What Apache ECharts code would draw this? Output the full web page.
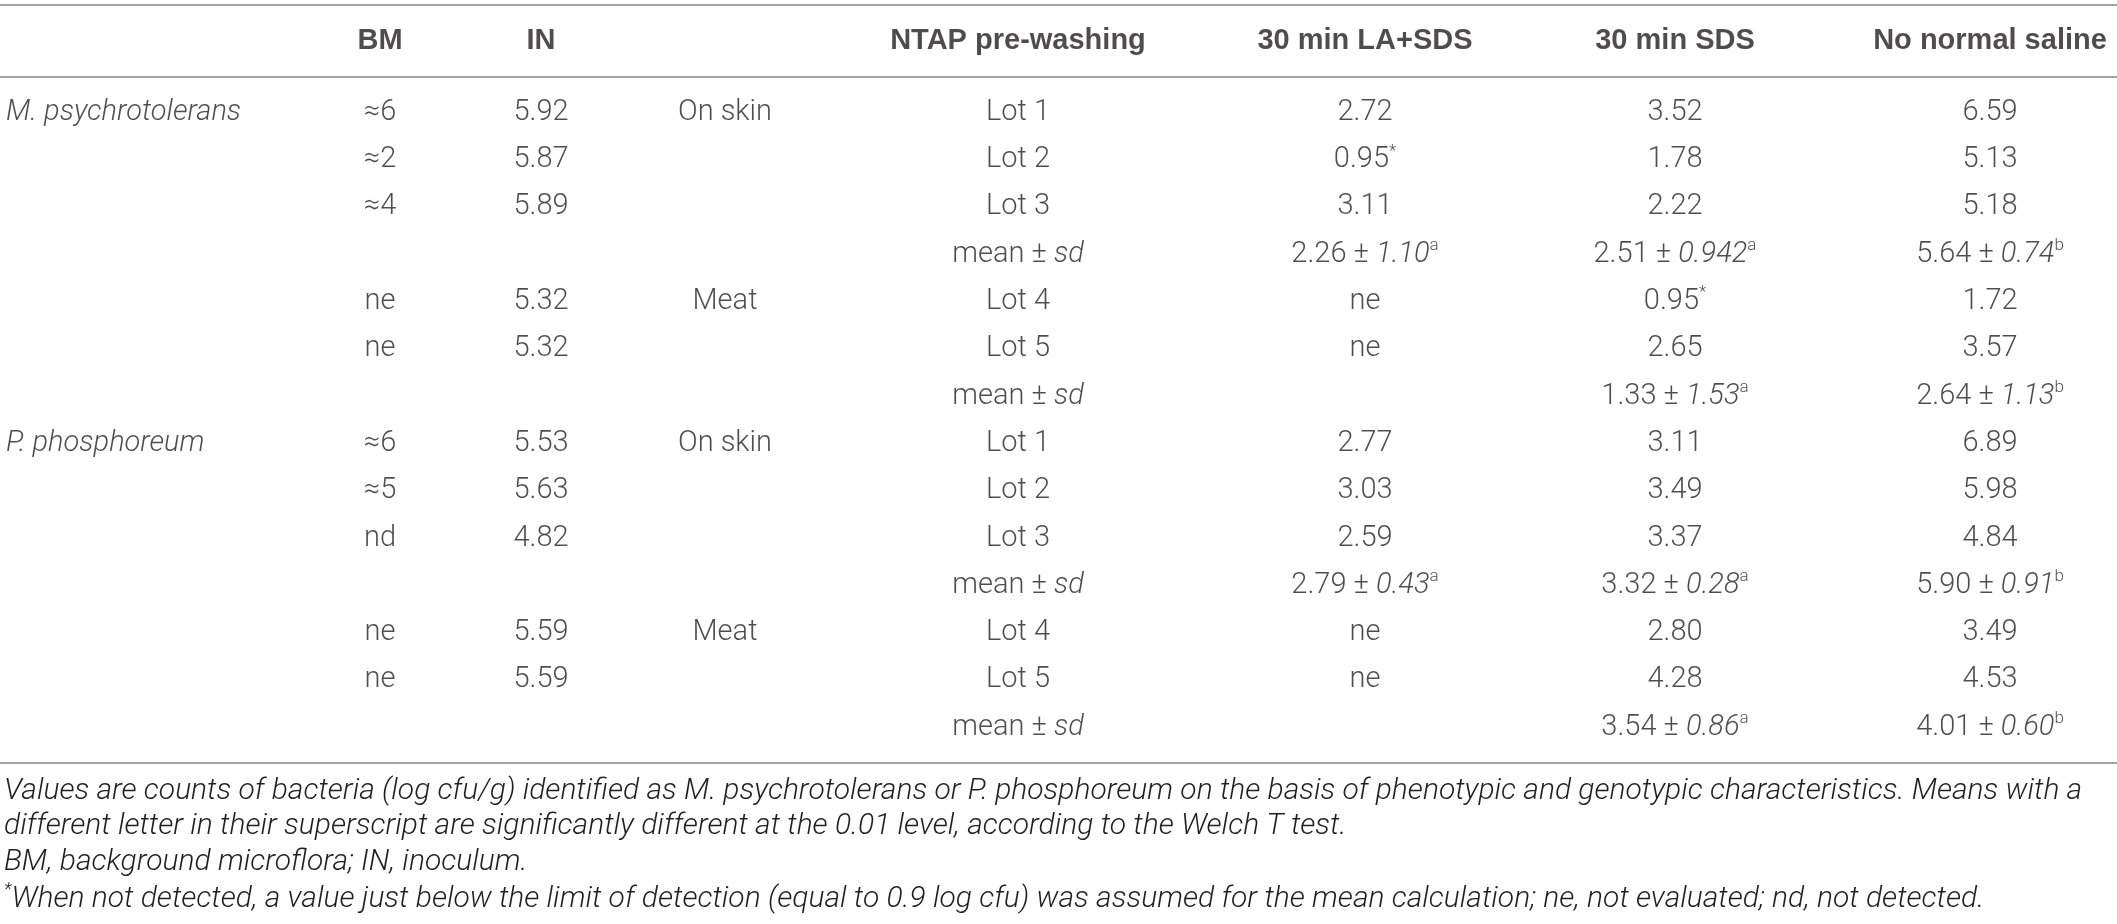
<!DOCTYPE html>
<html>
<head>
<meta charset="utf-8">
<script src="https://cdn.jsdelivr.net/npm/echarts@6/dist/echarts.min.js"></script>
<style>
  html, body { margin: 0; padding: 0; background: #fff; }
  #main { width: 2117px; height: 924px; }
</style>
</head>
<body>
<div id="main"></div>
<script>
// table content
const headers = ["", "BM", "IN", "", "NTAP pre-washing", "30 min LA+SDS", "30 min SDS", "No normal saline"]
const species = ["M. psychrotolerans", "", "", "", "", "", "", "P. phosphoreum", "", "", "", "", "", ""]
const bm = ["≈6", "≈2", "≈4", "", "ne", "ne", "", "≈6", "≈5", "nd", "", "ne", "ne", ""]
const inoculum = ["5.92", "5.87", "5.89", "", "5.32", "5.32", "", "5.53", "5.63", "4.82", "", "5.59", "5.59", ""]
const matrix = ["On skin", "", "", "", "Meat", "", "", "On skin", "", "", "", "Meat", "", ""]
const lots = ["Lot 1", "Lot 2", "Lot 3", "mean", "Lot 4", "Lot 5", "mean", "Lot 1", "Lot 2", "Lot 3", "mean", "Lot 4", "Lot 5", "mean"]
// mean rows are "mean|sd|letter"
const laSds = ["2.72", "0.95*", "3.11", "2.26|1.10|a", "ne", "ne", "", "2.77", "3.03", "2.59", "2.79|0.43|a", "ne", "ne", ""]
const sds = ["3.52", "1.78", "2.22", "2.51|0.942|a", "0.95*", "2.65", "1.33|1.53|a", "3.11", "3.49", "3.37", "3.32|0.28|a", "2.80", "4.28", "3.54|0.86|a"]
const noSaline = ["6.59", "5.13", "5.18", "5.64|0.74|b", "1.72", "3.57", "2.64|1.13|b", "6.89", "5.98", "4.84", "5.90|0.91|b", "3.49", "4.53", "4.01|0.60|b"]
const footnotes = [
  "Values are counts of bacteria (log cfu/g) identified as M. psychrotolerans or P. phosphoreum on the basis of phenotypic and genotypic characteristics. Means with a",
  "different letter in their superscript are significantly different at the 0.01 level, according to the Welch T test.",
  "BM, background microflora; IN, inoculum.",
  "{sup|*}When not detected, a value just below the limit of detection (equal to 0.9 log cfu) was assumed for the mean calculation; ne, not evaluated; nd, not detected."
]

// layout
const colX = [6, 380, 541, 725, 1018, 1365, 1675, 1990]
const noteTop = [773, 808, 844, 881]
const FONT = "Roboto"
const HEAD_FONT = "Liberation Sans"
const INK = "#231f20"
const RULE = "#a3a3a3"

const columns = [species, bm, inoculum, matrix, lots, laSds, sds, noSaline]

function cellText(v) {
  if (v === "mean") return "mean ± {i|sd}"
  if (v.indexOf("|") > 0) {
    const p = v.split("|")
    return p[0] + " ± {i|" + p[1] + "}{sup|" + p[2] + "}"
  }
  if (v.slice(-1) === "*") return v.slice(0, -1) + "{sup|*}"
  return v
}

const rich = {
  i: { fontFamily: FONT, fontWeight: 300, fontStyle: "italic", fontSize: 29, lineHeight: 34, color: INK },
  sup: { fontFamily: FONT, fontWeight: 300, fontSize: 17, lineHeight: 16, verticalAlign: "top", color: INK }
}

const headData = []
headers.forEach((h, c) => { if (h) headData.push([colX[c], 0, h]) })

const bodyData = []
columns.forEach((col, c) => {
  col.forEach((v, r) => {
    if (!v) return
    const item = { value: [colX[c], r, cellText(v)] }
    if (c === 0) item.label = { align: "left", fontStyle: "italic" }
    bodyData.push(item)
  })
})

const myChart = echarts.init(document.getElementById("main"), null, { renderer: "canvas" })

const hiddenX = (grid, pos, line) => ({
  type: "value", gridIndex: grid, position: pos, min: 0, max: 2117,
  axisLine: { show: line, onZero: false, lineStyle: { color: RULE, width: 2 } },
  axisTick: { show: false }, axisLabel: { show: false }, splitLine: { show: false }
})

myChart.setOption({
  animation: false,
  backgroundColor: "#fff",
  title: footnotes.map((t, k) => ({
    text: t, left: 4, top: noteTop[k], padding: 0,
    textStyle: {
      fontFamily: FONT, fontWeight: 300, fontStyle: "italic", fontSize: 30, lineHeight: 36, color: INK,
      rich: { sup: { fontFamily: FONT, fontWeight: 300, fontStyle: "italic", fontSize: 18, lineHeight: 18, verticalAlign: "top", color: INK } }
    }
  })),
  grid: [
    { left: 0, right: 0, top: 5, height: 72 },
    { left: 0, right: 0, top: 77, height: 686 }
  ],
  xAxis: [hiddenX(0, "top", true), hiddenX(0, "bottom", true), hiddenX(1, "bottom", true)],
  yAxis: [
    { type: "category", gridIndex: 0, data: ["header"], show: false },
    { type: "value", gridIndex: 1, inverse: true, min: -0.75, max: 13.75, show: false }
  ],
  series: [
    {
      type: "scatter", xAxisIndex: 0, yAxisIndex: 0, symbolSize: 0, silent: true,
      data: headData,
      label: {
        show: true, position: "inside", formatter: (p) => p.value[2],
        fontFamily: HEAD_FONT, fontWeight: "bold", fontSize: 29, color: INK
      }
    },
    {
      type: "scatter", xAxisIndex: 2, yAxisIndex: 1, symbolSize: 0, silent: true,
      data: bodyData,
      label: {
        show: true, position: "inside", formatter: (p) => p.value[2],
        fontFamily: FONT, fontWeight: 300, fontSize: 29, lineHeight: 34, color: INK,
        rich: rich
      }
    }
  ]
})
</script>
</body>
</html>
